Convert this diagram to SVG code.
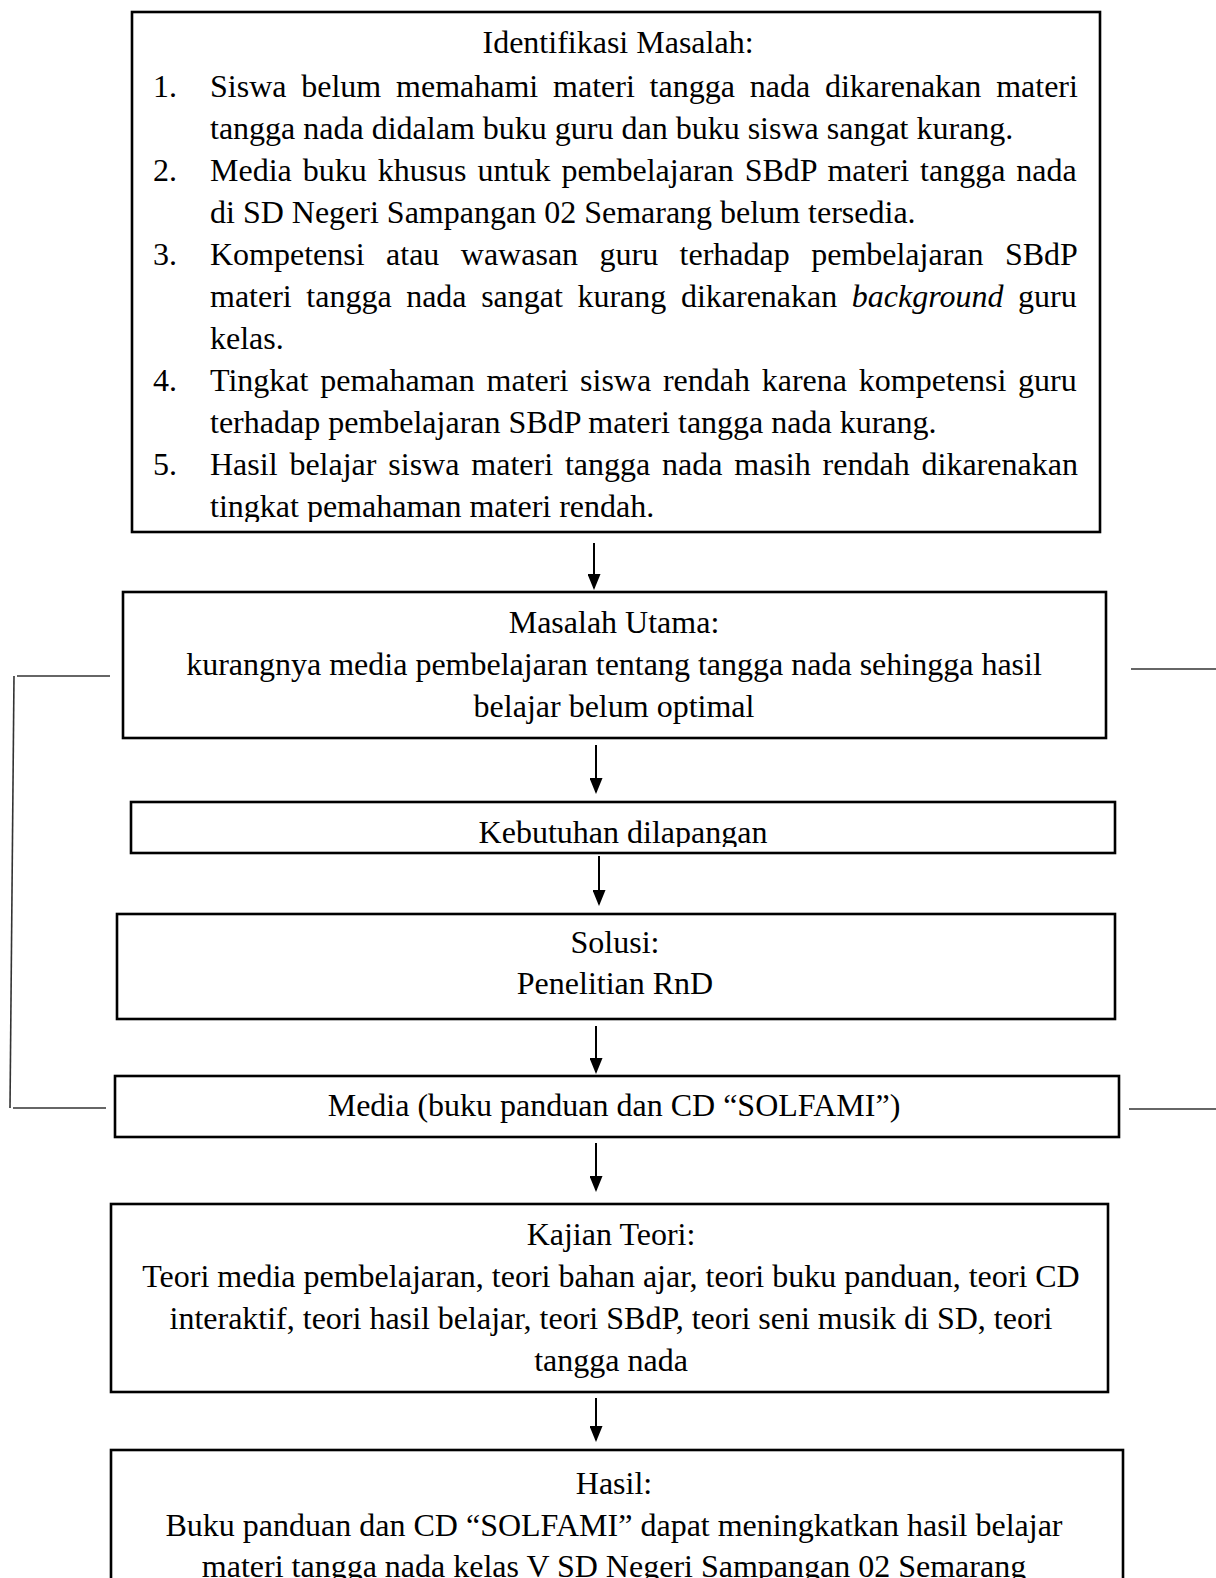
<svg xmlns="http://www.w3.org/2000/svg" width="1216" height="1578" viewBox="0 0 1216 1578">
<style>
.box{fill:#fff;stroke:#000;stroke-width:2.6}
.t{font-family:"Liberation Serif","Times New Roman",serif;font-size:32px;fill:#000}
.c{text-anchor:middle}
.br{fill:none;stroke:#333;stroke-width:1.6}
.ar{fill:none;stroke:#000;stroke-width:2}
</style>
<defs>
<marker id="ah" viewBox="0 0 16 13" refX="14" refY="6.5" markerWidth="16" markerHeight="13" markerUnits="userSpaceOnUse" orient="auto">
<path d="M0,0 L16,6.5 L0,13 Z" fill="#000"/>
</marker>
<clipPath id="clipTop"><rect x="132" y="12" width="968" height="510"/></clipPath>
<clipPath id="clipKeb"><rect x="131" y="802" width="984" height="45"/></clipPath>
</defs>
<rect width="1216" height="1578" fill="#fff"/>

<g id="identifikasi">
<rect class="box" x="132" y="12" width="968" height="520"/>
<g clip-path="url(#clipTop)">
<text class="t c" x="618" y="53">Identifikasi Masalah:</text>
<text class="t" x="153" y="97">1.</text>
<text class="t" x="210" y="97" word-spacing="6.82">Siswa belum memahami materi tangga nada dikarenakan materi</text>
<text class="t" x="210" y="139">tangga nada didalam buku guru dan buku siswa sangat kurang.</text>
<text class="t" x="153" y="181">2.</text>
<text class="t" x="210" y="181" word-spacing="2.96">Media buku khusus untuk pembelajaran SBdP materi tangga nada</text>
<text class="t" x="210" y="223">di SD Negeri Sampangan 02 Semarang belum tersedia.</text>
<text class="t" x="153" y="265">3.</text>
<text class="t" x="210" y="265" word-spacing="13.43">Kompetensi atau wawasan guru terhadap pembelajaran SBdP</text>
<text class="t" x="210" y="307" word-spacing="6.57">materi tangga nada sangat kurang dikarenakan <tspan font-style="italic">background</tspan> guru</text>
<text class="t" x="210" y="349">kelas.</text>
<text class="t" x="153" y="391">4.</text>
<text class="t" x="210" y="391" word-spacing="3.77">Tingkat pemahaman materi siswa rendah karena kompetensi guru</text>
<text class="t" x="210" y="433">terhadap pembelajaran SBdP materi tangga nada kurang.</text>
<text class="t" x="153" y="475">5.</text>
<text class="t" x="210" y="475" word-spacing="3.86">Hasil belajar siswa materi tangga nada masih rendah dikarenakan</text>
<text class="t" x="210" y="517">tingkat pemahaman materi rendah.</text>
</g>
</g>

<g id="masalah-utama">
<rect class="box" x="123" y="592" width="983" height="146"/>
<text class="t c" x="614" y="633">Masalah Utama:</text>
<text class="t c" x="614" y="675">kurangnya media pembelajaran tentang tangga nada sehingga hasil</text>
<text class="t c" x="614" y="717">belajar belum optimal</text>
</g>

<g id="kebutuhan">
<rect class="box" x="131" y="802" width="984" height="51"/>
<text class="t c" x="623" y="843" clip-path="url(#clipKeb)">Kebutuhan dilapangan</text>
</g>

<g id="solusi">
<rect class="box" x="117" y="914" width="998" height="105"/>
<text class="t c" x="615" y="953">Solusi:</text>
<text class="t c" x="615" y="994">Penelitian RnD</text>
</g>

<g id="media">
<rect class="box" x="115" y="1076" width="1004" height="61"/>
<text class="t c" x="614" y="1116">Media (buku panduan dan CD “SOLFAMI”)</text>
</g>

<g id="kajian-teori">
<rect class="box" x="111" y="1204" width="997" height="188"/>
<text class="t c" x="611" y="1245">Kajian Teori:</text>
<text class="t c" x="611" y="1287">Teori media pembelajaran, teori bahan ajar, teori buku panduan, teori CD</text>
<text class="t c" x="611" y="1329">interaktif, teori hasil belajar, teori SBdP, teori seni musik di SD, teori</text>
<text class="t c" x="611" y="1371">tangga nada</text>
</g>

<g id="hasil">
<rect class="box" x="111" y="1450" width="1012" height="200"/>
<text class="t c" x="614" y="1494">Hasil:</text>
<text class="t c" x="614" y="1536">Buku panduan dan CD “SOLFAMI” dapat meningkatkan hasil belajar</text>
<text class="t c" x="614" y="1577">materi tangga nada kelas V SD Negeri Sampangan 02 Semarang</text>
</g>

<g id="connectors">
<line class="ar" x1="594" y1="543" x2="594" y2="588" marker-end="url(#ah)"/>
<line class="ar" x1="596" y1="745" x2="596" y2="792" marker-end="url(#ah)"/>
<line class="ar" x1="599" y1="856" x2="599" y2="904" marker-end="url(#ah)"/>
<line class="ar" x1="596" y1="1026" x2="596" y2="1072" marker-end="url(#ah)"/>
<line class="ar" x1="596" y1="1143" x2="596" y2="1190" marker-end="url(#ah)"/>
<line class="ar" x1="596" y1="1398" x2="596" y2="1440" marker-end="url(#ah)"/>
<line class="br" x1="17" y1="676" x2="110" y2="676"/>
<line class="br" x1="14" y1="676" x2="10" y2="1108"/>
<line class="br" x1="13" y1="1108" x2="106" y2="1108"/>
<line class="br" x1="1131" y1="669" x2="1216" y2="669"/>
<line class="br" x1="1129" y1="1109" x2="1216" y2="1109"/>
</g>
</svg>
